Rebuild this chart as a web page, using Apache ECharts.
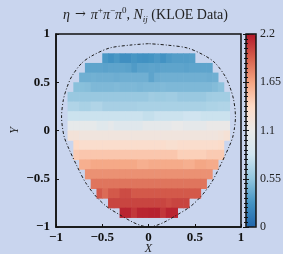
<!DOCTYPE html>
<html>
<head>
<meta charset="utf-8">
<script src="https://cdn.jsdelivr.net/npm/echarts@6/dist/echarts.min.js"></script>
<style>
html, body { margin: 0; padding: 0; background: #c9d5ee; }
#main { width: 283px; height: 254px; }
</style>
</head>
<body>
<div id="main"></div>
<script>
// bin size of the Dalitz plot
var binX = 0.0625;
var binY = 0.1;
// row centre in Y and left edge (X) of the first bin of the row
var rowY = [0.75, 0.65, 0.55, 0.45, 0.35, 0.25, 0.15, 0.05, -0.05, -0.15, -0.25, -0.35, -0.45, -0.55, -0.65, -0.75, -0.85];
var rowStartX = [-0.5, -0.6875, -0.75, -0.8125, -0.875, -0.875, -0.875, -0.875, -0.875, -0.8125, -0.8125, -0.75, -0.6875, -0.625, -0.5625, -0.4375, -0.3125];
// N_ij per row, left to right
var row01 = [0.30, 0.26, 0.30, 0.25, 0.25, 0.29, 0.27, 0.26, 0.28, 0.31, 0.27, 0.31, 0.33, 0.33, 0.33, 0.34];
var row02 = [0.37, 0.37, 0.37, 0.36, 0.37, 0.37, 0.37, 0.36, 0.32, 0.36, 0.36, 0.37, 0.36, 0.37, 0.37, 0.37, 0.37, 0.36, 0.37, 0.37, 0.37, 0.37];
var row03 = [0.43, 0.43, 0.44, 0.43, 0.43, 0.43, 0.42, 0.43, 0.43, 0.43, 0.43, 0.43, 0.37, 0.42, 0.43, 0.43, 0.43, 0.43, 0.43, 0.43, 0.43, 0.43, 0.42, 0.43];
var row04 = [0.52, 0.52, 0.51, 0.48, 0.48, 0.48, 0.48, 0.49, 0.48, 0.48, 0.48, 0.47, 0.48, 0.48, 0.48, 0.49, 0.48, 0.48, 0.48, 0.48, 0.48, 0.48, 0.48, 0.48, 0.50, 0.53];
var row05 = [0.58, 0.58, 0.58, 0.58, 0.58, 0.58, 0.58, 0.58, 0.58, 0.58, 0.58, 0.58, 0.58, 0.58, 0.61, 0.60, 0.60, 0.61, 0.61, 0.58, 0.58, 0.58, 0.58, 0.58, 0.61, 0.62, 0.62, 0.62];
var row06 = [0.68, 0.68, 0.65, 0.65, 0.68, 0.68, 0.64, 0.64, 0.64, 0.64, 0.64, 0.64, 0.65, 0.65, 0.65, 0.65, 0.65, 0.65, 0.65, 0.65, 0.65, 0.65, 0.65, 0.65, 0.67, 0.67, 0.68, 0.68];
var row07 = [0.80, 0.80, 0.80, 0.80, 0.80, 0.80, 0.80, 0.80, 0.80, 0.80, 0.80, 0.80, 0.80, 0.77, 0.77, 0.80, 0.80, 0.80, 0.80, 0.80, 0.82, 0.82, 0.82, 0.80, 0.80, 0.80, 0.80, 0.80];
var row08 = [1.07, 1.07, 1.07, 1.07, 1.07, 1.00, 1.00, 1.05, 0.98, 0.98, 0.98, 0.98, 0.98, 1.05, 1.05, 1.05, 1.05, 1.05, 1.10, 1.10, 1.05, 1.05, 1.05, 1.05, 1.12, 1.12, 1.12, 1.12];
var row09 = [1.24, 1.24, 1.20, 1.20, 1.20, 1.20, 1.20, 1.20, 1.20, 1.20, 1.20, 1.20, 1.20, 1.20, 1.20, 1.20, 1.20, 1.20, 1.20, 1.20, 1.20, 1.20, 1.20, 1.20, 1.20, 1.20, 1.22, 1.26];
var row10 = [1.38, 1.33, 1.33, 1.33, 1.33, 1.33, 1.33, 1.33, 1.33, 1.33, 1.33, 1.33, 1.33, 1.33, 1.33, 1.33, 1.30, 1.30, 1.33, 1.33, 1.33, 1.33, 1.33, 1.33, 1.33, 1.35];
var row11 = [1.46, 1.48, 1.48, 1.48, 1.48, 1.48, 1.48, 1.48, 1.48, 1.48, 1.48, 1.48, 1.48, 1.48, 1.48, 1.48, 1.48, 1.48, 1.43, 1.43, 1.43, 1.43, 1.43, 1.46, 1.46, 1.46];
var row12 = [1.60, 1.60, 1.63, 1.63, 1.63, 1.63, 1.63, 1.63, 1.63, 1.63, 1.60, 1.60, 1.62, 1.62, 1.62, 1.62, 1.62, 1.62, 1.60, 1.60, 1.64, 1.64, 1.62, 1.62];
var row13 = [1.73, 1.73, 1.73, 1.73, 1.73, 1.73, 1.73, 1.73, 1.73, 1.73, 1.73, 1.73, 1.73, 1.73, 1.73, 1.73, 1.73, 1.73, 1.73, 1.73, 1.73, 1.73];
var row14 = [1.84, 1.84, 1.84, 1.84, 1.84, 1.84, 1.84, 1.84, 1.84, 1.84, 1.84, 1.84, 1.84, 1.84, 1.84, 1.84, 1.84, 1.84, 1.84, 1.84];
var row15 = [1.95, 1.88, 1.95, 1.95, 2.00, 2.00, 1.95, 1.95, 1.95, 1.95, 1.95, 1.95, 1.95, 1.95, 1.95, 1.95, 1.95, 1.95];
var row16 = [2.03, 2.03, 2.03, 2.03, 2.03, 2.03, 2.03, 2.03, 2.03, 2.03, 2.00, 2.03, 2.03, 2.03];
var row17 = [2.15, 2.15, 2.08, 2.15, 2.15, 2.16, 2.16, 2.08, 2.15, 2.15];
var rows = [row01, row02, row03, row04, row05, row06, row07, row08, row09, row10, row11, row12, row13, row14, row15, row16, row17];
// kinematic boundary
var boundaryX = [0, -0.2, -0.42, -0.6, -0.72, -0.83, -0.88, -0.92, -0.94, -0.93, -0.91, -0.87, -0.77, -0.68, -0.57, -0.45, -0.29, -0.17, -0.08, 0, 0.08, 0.17, 0.29, 0.45, 0.57, 0.68, 0.77, 0.87, 0.91, 0.93, 0.94, 0.92, 0.88, 0.83, 0.72, 0.6, 0.42, 0.2, 0];
var boundaryY = [0.9, 0.885, 0.855, 0.78, 0.70, 0.56, 0.45, 0.32, 0.14, 0.03, -0.07, -0.17, -0.375, -0.54, -0.68, -0.79, -0.885, -0.95, -0.985, -1.0, -0.985, -0.95, -0.885, -0.79, -0.68, -0.54, -0.375, -0.17, -0.07, 0.03, 0.14, 0.32, 0.45, 0.56, 0.70, 0.78, 0.855, 0.885, 0.9];
var colorMin = 0;
var colorMax = 2.2;
var colorStep = 0.55;

var Chart = function() {
    var serif = "'Liberation Serif', 'DejaVu Serif', serif";
    var t = {
        myChart : null,
        init : function(id) {
            t.myChart = echarts.init(document.getElementById(id));
            t.render();
        },
        // 热图数据 [x, y, v]
        buildCells : function() {
            var cells = [];
            for (var i = 0; i < rows.length; i++) {
                for (var j = 0; j < rows[i].length; j++) {
                    cells.push([ rowStartX[i] + (j + 0.5) * binX, rowY[i], rows[i][j] ]);
                }
            }
            return cells;
        },
        buildBoundary : function() {
            var pts = [];
            for (var i = 0; i < boundaryX.length; i++) {
                pts.push([ boundaryX[i], boundaryY[i] ]);
            }
            return pts;
        },
        renderCell : function(params, api) {
            var x = api.value(0);
            var y = api.value(1);
            var p0 = api.coord([ x - binX / 2, y + binY / 2 ]);
            var p1 = api.coord([ x + binX / 2, y - binY / 2 ]);
            return {
                type : 'rect',
                shape : {
                    x : p0[0],
                    y : p0[1],
                    width : p1[0] - p0[0] + 0.6,
                    height : p1[1] - p0[1] + 0.6
                },
                style : {
                    fill : api.visual('color')
                }
            };
        },
        minus : function(v) {
            return String(v).replace('-', '\u2212');
        },
        render : function() {
            var rich = function(size, italic, extra) {
                var s = { fontFamily : serif, fontSize : size, fontWeight : 'normal', fontStyle : italic ? 'italic' : 'normal', color : '#222', lineHeight : 16 };
                for (var k in extra) {
                    s[k] = extra[k];
                }
                return s;
            };
            var option = {
                animation : false,
                backgroundColor : '#c9d5ee',
                title : {
                    left : 63,
                    top : 6,
                    padding : 0,
                    text : '{g|\u03b7} {r|\u2192} {g|\u03c0}{s|+}{g|\u03c0}{s|\u2212}{g|\u03c0}{s|0}{a|, }{g|N}{b|ij}{a| (KLOE Data)}',
                    textStyle : {
                        fontWeight : 'normal',
                        rich : {
                            a : rich(14, false, {}),
                            g : rich(14, true, {}),
                            r : rich(13, false, { fontFamily : "'DejaVu Serif', serif" }),
                            s : rich(9, false, { lineHeight : 10, verticalAlign : 'top' }),
                            b : rich(9, true, { lineHeight : 10, verticalAlign : 'bottom' })
                        }
                    }
                },
                grid : [ {
                    left : 56,
                    top : 34,
                    width : 185,
                    height : 193,
                    outerBoundsMode : 'none',
                    containLabel : false,
                    show : true,
                    borderColor : '#111',
                    borderWidth : 1.5,
                    backgroundColor : 'transparent'
                }, {
                    left : 246,
                    top : 34,
                    width : 10,
                    height : 193,
                    outerBoundsMode : 'none',
                    containLabel : false,
                    show : true,
                    z : 10,
                    borderColor : '#111',
                    borderWidth : 1.5,
                    backgroundColor : 'transparent'
                } ],
                xAxis : [ {
                    type : 'value',
                    gridIndex : 0,
                    min : -1,
                    max : 1,
                    interval : 0.5,
                    name : 'X',
                    nameLocation : 'middle',
                    nameMoveOverlap : false,
                    nameGap : 16,
                    nameTextStyle : { fontFamily : serif, fontSize : 12, fontStyle : 'italic', color : '#222' },
                    axisLine : { onZero : false, lineStyle : { color : '#111', width : 1.5 } },
                    axisTick : { inside : true, length : 3, lineStyle : { color : '#111' } },
                    splitLine : { show : false },
                    axisLabel : { margin : 4, fontFamily : serif, fontSize : 13, fontWeight : 'bold', color : '#111', formatter : t.minus }
                }, {
                    type : 'value',
                    gridIndex : 1,
                    show : false,
                    min : 0,
                    max : 1
                } ],
                yAxis : [ {
                    type : 'value',
                    gridIndex : 0,
                    min : -1,
                    max : 1,
                    interval : 0.5,
                    name : 'Y',
                    nameLocation : 'middle',
                    nameMoveOverlap : false,
                    nameGap : 35,
                    nameTextStyle : { fontFamily : serif, fontSize : 12, fontStyle : 'italic', color : '#222' },
                    axisLine : { onZero : false, lineStyle : { color : '#111', width : 1.5 } },
                    axisTick : { inside : true, length : 3, lineStyle : { color : '#111' } },
                    splitLine : { show : false },
                    axisLabel : { margin : 6, fontFamily : serif, fontSize : 13, fontWeight : 'bold', color : '#111', formatter : t.minus }
                }, {
                    type : 'value',
                    gridIndex : 1,
                    position : 'right',
                    z : 10,
                    min : colorMin,
                    max : colorMax,
                    interval : colorStep,
                    axisLine : { show : false },
                    axisTick : { inside : true, length : 3, lineStyle : { color : '#111' } },
                    minorTick : { show : true, splitNumber : 10, length : 2, lineStyle : { color : '#111' } },
                    splitLine : { show : false },
                    axisLabel : { margin : 4, fontFamily : serif, fontSize : 12, color : '#222' }
                }, {
                    type : 'value',
                    gridIndex : 1,
                    position : 'left',
                    z : 10,
                    min : colorMin,
                    max : colorMax,
                    interval : colorStep,
                    axisLine : { show : false },
                    axisTick : { inside : true, length : 3, lineStyle : { color : '#111' } },
                    minorTick : { show : true, splitNumber : 10, length : 2, lineStyle : { color : '#111' } },
                    splitLine : { show : false },
                    axisLabel : { show : false }
                } ],
                visualMap : {
                    type : 'continuous',
                    min : colorMin,
                    max : colorMax,
                    dimension : 2,
                    seriesIndex : 0,
                    calculable : false,
                    hoverLink : false,
                    left : 246,
                    top : 34,
                    padding : 0,
                    itemWidth : 10,
                    itemHeight : 193,
                    inRange : {
                        color : [ '#2166ac', '#4393c3', '#92c5de', '#d1e5f0', '#e9e9e9', '#fddbc7', '#f4a582', '#d6604d', '#b2182b' ]
                    }
                },
                series : [ {
                    type : 'custom',
                    xAxisIndex : 0,
                    yAxisIndex : 0,
                    renderItem : t.renderCell,
                    encode : { x : 0, y : 1 },
                    data : t.buildCells()
                }, {
                    type : 'line',
                    xAxisIndex : 0,
                    yAxisIndex : 0,
                    z : 5,
                    symbol : 'none',
                    smooth : 0.3,
                    lineStyle : { color : '#1a1a1a', width : 1, type : [ 3, 2, 1, 2 ] },
                    data : t.buildBoundary()
                } ]
            };
            t.myChart.setOption(option);
        }
    };
    return t;
}();

Chart.init('main');
</script>
</body>
</html>
